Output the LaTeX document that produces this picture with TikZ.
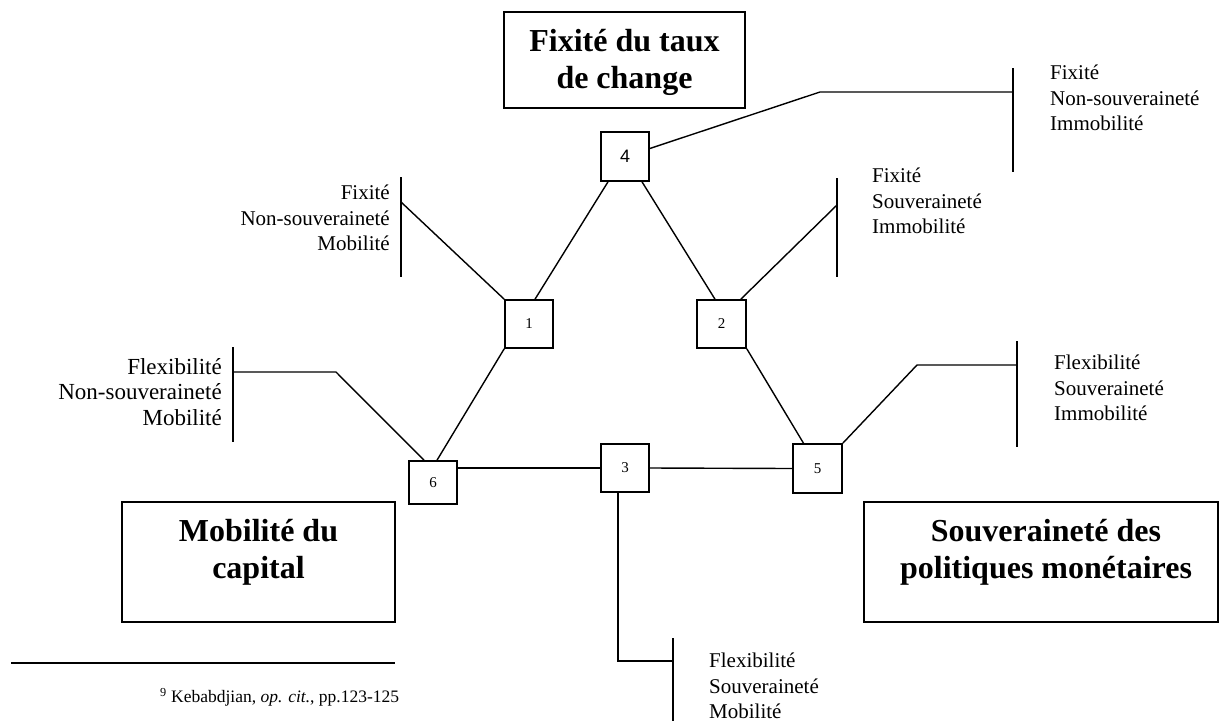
\documentclass[tikz,border=0pt]{standalone}
\usepackage{fontspec}
\setmainfont{Liberation Serif}
\newfontfamily\arialfont{Liberation Sans}
\usetikzlibrary{positioning,calc}
\tikzset{
  cell/.style={draw, line width=1.6pt, inner sep=0pt, font=\fontsize{15}{18}\selectfont},
  pole/.style={draw, line width=1.6pt, inner sep=0pt},
  poletext/.style={font=\fontsize{32}{37}\selectfont\bfseries, align=center, inner sep=0pt},
  combo/.style={font=\fontsize{21}{25.5}\selectfont, inner sep=0pt},
  link/.style={line width=1.4pt},
  tick/.style={line width=1.6pt},
  note/.style={font=\fontsize{17.5}{21}\selectfont, inner sep=0pt},
}

\begin{document}
\begin{tikzpicture}[x=1pt,y=-1pt]
  \useasboundingbox (0,0) rectangle (1224,721);
  % the three poles of the triangle
  \node[pole, minimum width=241pt, minimum height=96pt] (fixbox) at (624.5,60) {};
  \node[poletext] (fixtxt) at (624.5,62) {Fixité du taux\\de change};
  \node[pole, minimum width=273pt, minimum height=120pt] (mobbox) at (258.5,562) {};
  \node[poletext] (mobtxt) at (258.5,552) {Mobilité du\\capital};
  \node[pole, minimum width=354pt, minimum height=120pt] (souvbox) at (1041,562) {};
  \node[poletext] (souvtxt) at (1046,552) {Souveraineté des\\politiques monétaires};
  % numbered corners
  \node[cell, minimum width=48pt, minimum height=49pt, font=\arialfont\fontsize{18}{20}\selectfont] (n4) at (625,156.5) {4};
  \node[cell, minimum width=48pt, minimum height=48pt] (n1) at (529,324) {1};
  \node[cell, minimum width=49pt, minimum height=48pt] (n2) at (721.5,324) {2};
  \node[cell, minimum width=48pt, minimum height=43pt] (n6) at (433,482.5) {6};
  \node[cell, minimum width=48pt, minimum height=48pt] (n3) at (625,468) {3};
  \node[cell, minimum width=49pt, minimum height=49pt] (n5) at (817.5,468.5) {5};
  % triangle sides
  \draw[link] ([xshift=-17pt]n4.south) -- ([xshift=6pt]n1.north);
  \draw[link] ([xshift=17pt]n4.south) -- ([xshift=-6.5pt]n2.north);
  \draw[link] (n1.south west) -- ([xshift=4pt]n6.north);
  \draw[link] (n2.south east) -- ([xshift=-14pt]n5.north);
  \draw[link] (n6.east |- n3.west) -- (n3.west);
  \draw[link] (n3.east) -- (n5.west);
  % brackets with their regimes
  \coordinate (b1) at (401,202);
  \draw[tick] (401,177) -- (401,277);
  \draw[link] (n1.north west) -- (b1);
  \node[combo, align=right, anchor=east] (t1) at (390,218) {Fixité\\Non-souveraineté\\Mobilité};
  \coordinate (b2) at (837,205);
  \draw[tick] (837,178) -- (837,277);
  \draw[link] ([xshift=-6pt]n2.north east) -- (b2);
  \node[combo, align=left, anchor=west] (t2) at (872,201) {Fixité\\Souveraineté\\Immobilité};
  \coordinate (k4) at (820,92);
  \coordinate (b4) at (1013,92);
  \draw[tick] (1013,68) -- (1013,172);
  \draw[link] ([yshift=8pt]n4.east) -- (k4) -- (b4);
  \node[combo, align=left, anchor=west] (t4) at (1050,98) {Fixité\\Non-souveraineté\\Immobilité};
  \coordinate (k6) at (336,372);
  \coordinate (b6) at (233,372);
  \draw[tick] (233,347) -- (233,442);
  \draw[link] ([xshift=-9pt]n6.north) -- (k6) -- (b6);
  \node[combo, font=\fontsize{23}{25.5}\selectfont, align=right, anchor=east] (t6) at (222,392) {Flexibilité\\Non-souveraineté\\Mobilité};
  \coordinate (k5) at (917,365);
  \coordinate (b5) at (1017,365);
  \draw[tick] (1017,341) -- (1017,447);
  \draw[link] (n5.north east) -- (k5) -- (b5);
  \node[combo, align=left, anchor=west] (t5) at (1054,388) {Flexibilité\\Souveraineté\\Immobilité};
  \coordinate (b3) at (673,661);
  \draw[tick] (673,638) -- (673,721);
  \draw[link] ([xshift=-7pt]n3.south) |- (b3);
  \node[combo, align=left, anchor=west] (t3) at (709,686) {Flexibilité\\Souveraineté\\Mobilité};
  % footnote
  \draw[link] (11,663) -- (395,663);
  \node[note, anchor=west] (fn) at (160,697) {\textsuperscript{9} Kebabdjian, \textit{op. cit.}, pp.123-125};
\end{tikzpicture}
\end{document}
